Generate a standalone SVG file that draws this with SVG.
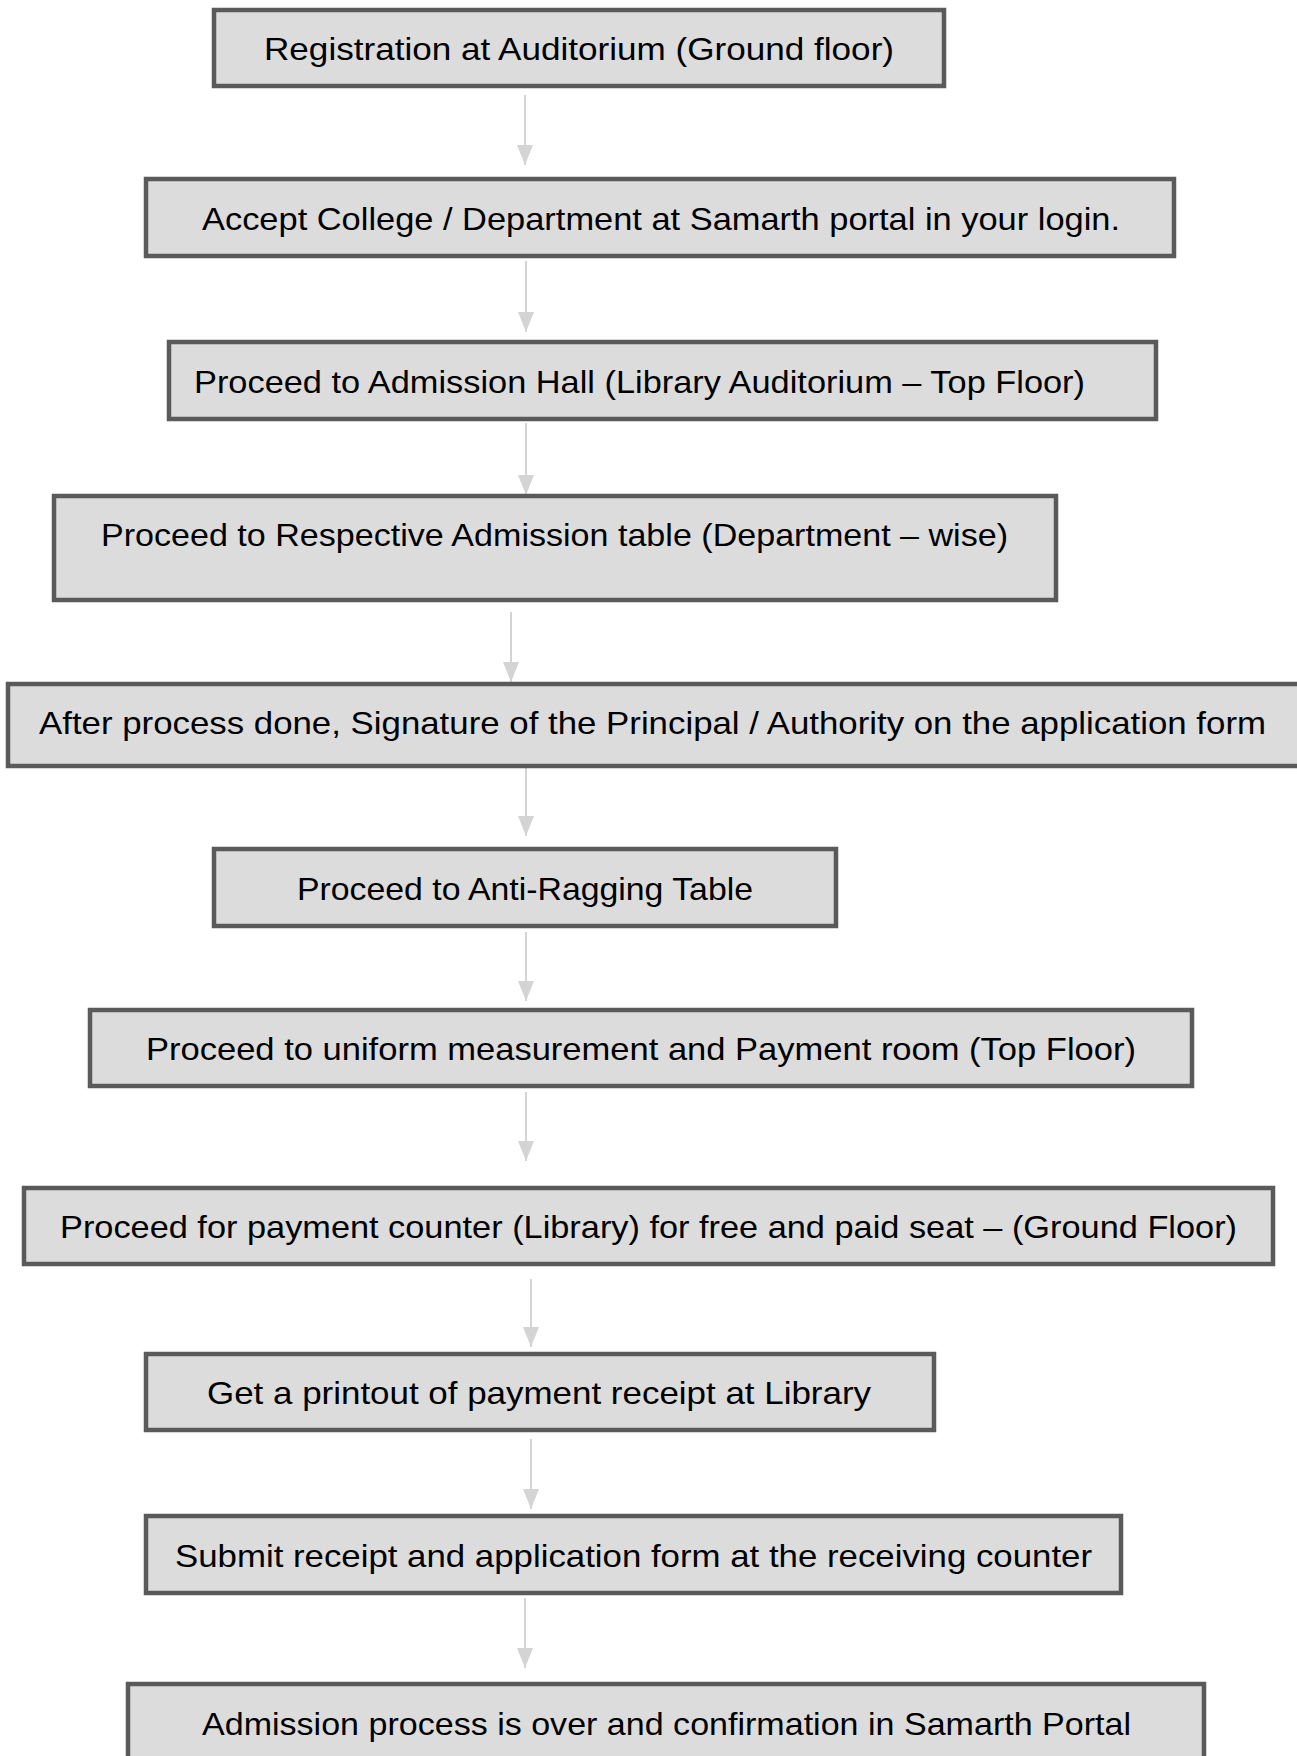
<svg xmlns="http://www.w3.org/2000/svg" width="1297" height="1756" viewBox="0 0 1297 1756">
<style>
.box{fill:#dcdcdc;stroke:#5a5a5a;stroke-width:4.5}
.lbl{font-family:"Liberation Sans",Arial,sans-serif;font-size:32px;fill:#000}
.conn line{stroke:#d4d4d4;stroke-width:2}
</style>
<defs>
<marker id="ah" markerUnits="userSpaceOnUse" markerWidth="22" markerHeight="16" refX="20" refY="8" orient="auto" viewBox="0 0 22 16">
<path d="M0,0 L20,8 L0,16 Z" fill="#d4d4d4"/>
</marker>
</defs>
<rect width="1297" height="1756" fill="#fff"/>
<g class="conn" id="connectors">
<line x1="525" y1="95" x2="525" y2="165" marker-end="url(#ah)"/>
<line x1="526" y1="261" x2="526" y2="332" marker-end="url(#ah)"/>
<line x1="526" y1="423" x2="526" y2="495" marker-end="url(#ah)"/>
<line x1="511" y1="612" x2="511" y2="682" marker-end="url(#ah)"/>
<line x1="526" y1="767" x2="526" y2="836" marker-end="url(#ah)"/>
<line x1="526" y1="932" x2="526" y2="1001" marker-end="url(#ah)"/>
<line x1="526" y1="1092" x2="526" y2="1161" marker-end="url(#ah)"/>
<line x1="531" y1="1279" x2="531" y2="1347" marker-end="url(#ah)"/>
<line x1="531" y1="1439" x2="531" y2="1509" marker-end="url(#ah)"/>
<line x1="525" y1="1598" x2="525" y2="1668" marker-end="url(#ah)"/>
</g>
<g id="n1"><rect class="box" x="214" y="10" width="730" height="76"/><text class="lbl" x="264" y="60" textLength="630" lengthAdjust="spacingAndGlyphs">Registration at Auditorium (Ground floor)</text></g>
<g id="n2"><rect class="box" x="146" y="179" width="1028" height="77"/><text class="lbl" x="202" y="230" textLength="918" lengthAdjust="spacingAndGlyphs">Accept College / Department at Samarth portal in your login.</text></g>
<g id="n3"><rect class="box" x="169" y="342" width="987" height="77"/><text class="lbl" x="194" y="393" textLength="891" lengthAdjust="spacingAndGlyphs">Proceed to Admission Hall (Library Auditorium – Top Floor)</text></g>
<g id="n4"><rect class="box" x="54" y="496" width="1002" height="104"/><text class="lbl" x="101" y="546" textLength="907" lengthAdjust="spacingAndGlyphs">Proceed to Respective Admission table (Department – wise)</text></g>
<g id="n5"><rect class="box" x="8" y="684" width="1295" height="82"/><text class="lbl" x="39" y="734" textLength="1227" lengthAdjust="spacingAndGlyphs">After process done, Signature of the Principal / Authority on the application form</text></g>
<g id="n6"><rect class="box" x="214" y="849" width="622" height="77"/><text class="lbl" x="297" y="900" textLength="456" lengthAdjust="spacingAndGlyphs">Proceed to Anti-Ragging Table</text></g>
<g id="n7"><rect class="box" x="90" y="1010" width="1102" height="76"/><text class="lbl" x="146" y="1060" textLength="990" lengthAdjust="spacingAndGlyphs">Proceed to uniform measurement and Payment room (Top Floor)</text></g>
<g id="n8"><rect class="box" x="24" y="1188" width="1249" height="76"/><text class="lbl" x="60" y="1238" textLength="1177" lengthAdjust="spacingAndGlyphs">Proceed for payment counter (Library) for free and paid seat – (Ground Floor)</text></g>
<g id="n9"><rect class="box" x="146" y="1354" width="788" height="76"/><text class="lbl" x="207" y="1404" textLength="664" lengthAdjust="spacingAndGlyphs">Get a printout of payment receipt at Library</text></g>
<g id="n10"><rect class="box" x="146" y="1516" width="975" height="77"/><text class="lbl" x="175" y="1567" textLength="917" lengthAdjust="spacingAndGlyphs">Submit receipt and application form at the receiving counter</text></g>
<g id="n11"><rect class="box" x="128" y="1684" width="1076" height="90"/><text class="lbl" x="202" y="1735" textLength="929" lengthAdjust="spacingAndGlyphs">Admission process is over and confirmation in Samarth Portal</text></g>
</svg>
